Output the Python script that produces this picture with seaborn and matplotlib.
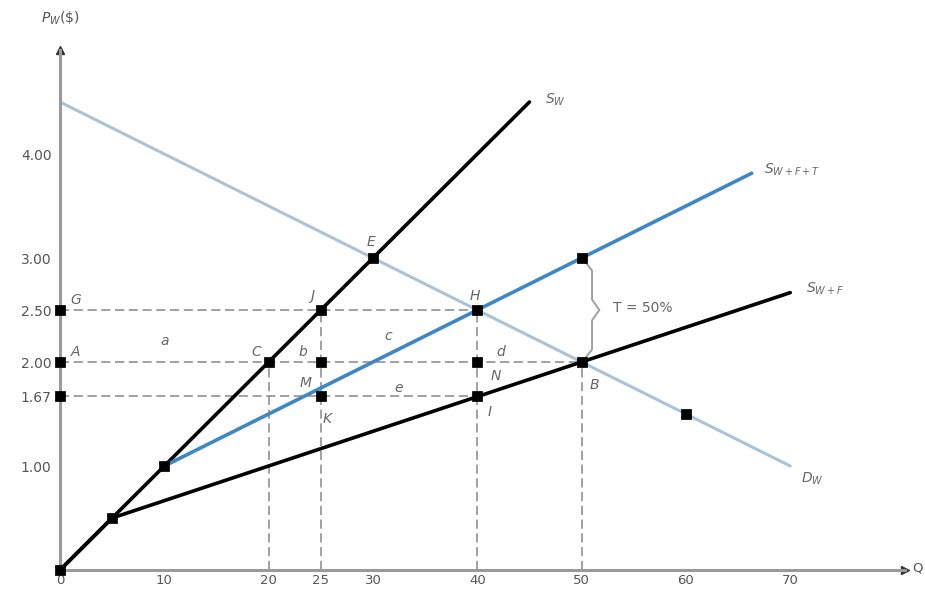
import numpy as np
import pandas as pd
import matplotlib
matplotlib.use('Agg')
import matplotlib.pyplot as plt
import seaborn as sns

# supply / demand lines (quantity, price)
sw_q = [0, 45]
sw_p = [0, 4.5]
swf_q = [0, 5, 70]
swf_p = [0, 0.5, 2.667]
swft_q = [10, 66.3]
swft_p = [1.0, 3.815]
dw_q = [0, 70]
dw_p = [4.5, 1.0]

# marked points
pt_q = [0, 5, 10, 20, 25, 30, 25, 25, 40, 40, 40, 50, 50, 60, 0, 0, 0]
pt_p = [0, 0.5, 1.0, 2.0, 2.5, 3.0, 2.0, 1.67, 2.5, 2.0, 1.67, 2.0, 3.0, 1.5, 2.5, 2.0, 1.67]

# dashed guide lines
h_lvl = [2.5, 2.0, 1.67]
h_end = [40, 50, 40]
v_pos = [20, 25, 40, 50]
v_top = [2.0, 2.5, 2.5, 2.0]

xticks = [0, 10, 20, 25, 30, 40, 50, 60, 70]
yticks = [1.00, 1.67, 2.00, 2.50, 3.00, 4.00]
ytick_lab = ['1.00', '1.67', '2.00', '2.50', '3.00', '4.00']

point_labels = [('G', 1.5, 2.6), ('A', 1.5, 2.1), ('a', 10, 2.2), ('C', 18.8, 2.1),
                ('b', 23.3, 2.1), ('J', 24.2, 2.63), ('E', 29.8, 3.15), ('c', 31.5, 2.25),
                ('H', 39.8, 2.63), ('d', 42.2, 2.1), ('M', 23.5, 1.8), ('e', 32.5, 1.75),
                ('N', 41.8, 1.87), ('K', 25.6, 1.45), ('I', 41.2, 1.52), ('B', 51.2, 1.78)]

# tariff brace between B and the point above it
brace_x = 51.0
brace_lo, brace_hi = 2.0, 3.0

sns.set_style('white')
plt.rcParams['font.family'] = ['DejaVu Sans']

fig = plt.figure(figsize=(9.25, 5.93), dpi=100)
ax = fig.add_axes([60/925, 23/593, 845/925, 520/593])

grey = '#9a9a9a'
for lvl, end in zip(h_lvl, h_end):
    ax.plot([0, end], [lvl, lvl], ls=(0, (6, 3)), color='#888888', lw=1.1, zorder=1)
for pos, top in zip(v_pos, v_top):
    ax.plot([pos, pos], [0, top], ls=(0, (6, 3)), color='#888888', lw=1.1, zorder=1)

sns.lineplot(x=dw_q, y=dw_p, color='#a9c4d9', lw=2.2, ax=ax, zorder=2)
sns.lineplot(x=sw_q, y=sw_p, color='black', lw=2.6, ax=ax, zorder=3)
sns.lineplot(x=swf_q, y=swf_p, color='black', lw=2.6, ax=ax, zorder=3, sort=False)
sns.lineplot(x=swft_q, y=swft_p, color='#3f86c4', lw=2.6, ax=ax, zorder=3)

sns.scatterplot(x=pt_q, y=pt_p, marker='s', s=45, color='black', edgecolor='black',
                ax=ax, zorder=5, clip_on=False)

# brace
mid = (brace_lo + brace_hi) / 2
ax.plot([50.2, brace_x, brace_x, brace_x + 0.7, brace_x, brace_x, 50.2],
        [brace_hi - 0.02, brace_hi - 0.12, mid + 0.1, mid, mid - 0.1, brace_lo + 0.12, brace_lo + 0.02],
        color='#a0a0a0', lw=1.4, zorder=2)

ax.set_xlim(0, 81)
ax.set_ylim(0, 5.0)
ax.set_xticks(xticks)
ax.set_xticklabels([str(v) for v in xticks])
ax.set_yticks(yticks)
ax.set_yticklabels(ytick_lab)
ax.set_xticks([5], minor=True)
ax.set_yticks([0.5], minor=True)
ax.tick_params(axis='both', which='both', direction='in', length=5, color=grey,
               labelsize=10, labelcolor='#555555', pad=6)
ax.tick_params(axis='x', pad=3, labelsize=9.5)

for s in ['top', 'right']:
    ax.spines[s].set_visible(False)
for s in ['left', 'bottom']:
    ax.spines[s].set_color(grey)
    ax.spines[s].set_linewidth(2.2)

# axis arrows
ax.plot(1, 0, '>', color='#333333', ms=6, transform=ax.transAxes, clip_on=False)
ax.plot(0, 1, '^', color='#333333', ms=6, transform=ax.transAxes, clip_on=False)

fig.text(60/925, 1 - 18/593, r'$P_W$(\$)', ha='center', va='center', fontsize=10, color='#555555')
fig.text(912/925, 1 - 568/593, 'Q', ha='left', va='center', fontsize=9.5, color='#555555')

for lab, xq, yp in point_labels:
    ax.text(xq, yp, lab, fontsize=10, style='italic', color='#666666', ha='center', va='center')

ax.text(46.5, 4.52, r'$S_W$', fontsize=10, color='#666666', va='center')
ax.text(67.5, 3.85, r'$S_{W+F+T}$', fontsize=10, color='#666666', va='center')
ax.text(71.5, 2.7, r'$S_{W+F}$', fontsize=10, color='#666666', va='center')
ax.text(71.0, 0.88, r'$D_W$', fontsize=10, color='#666666', va='center')

ax.text(53.0, 2.52, 'T = 50%', fontsize=10, color='#666666', ha='left', va='center')

fig.savefig('out.png', dpi=100)
